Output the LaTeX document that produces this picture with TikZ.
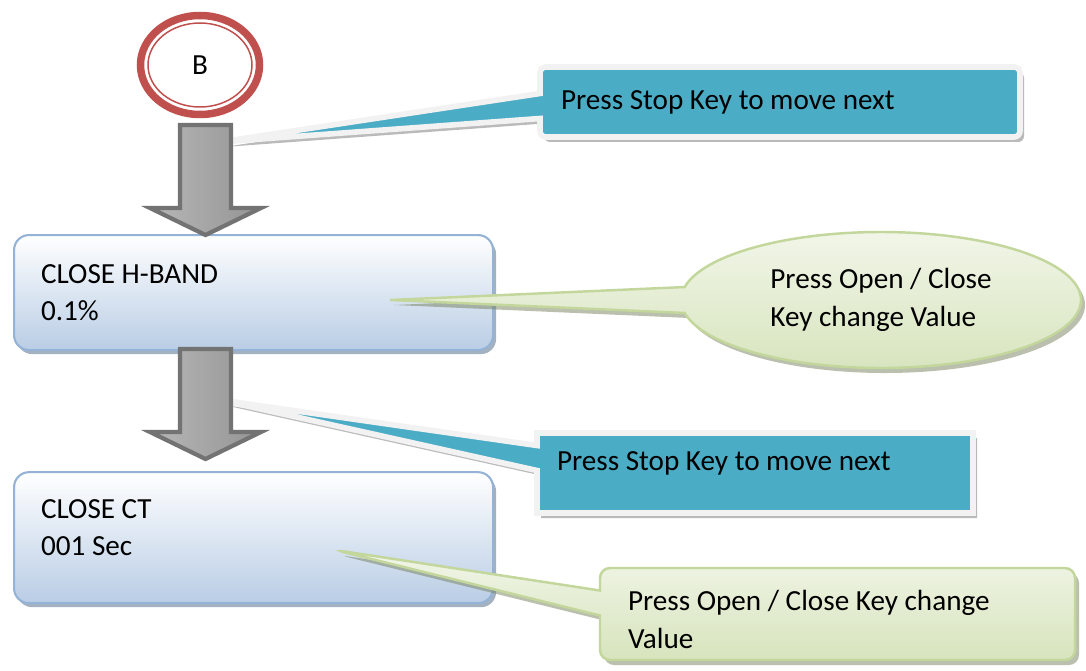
\documentclass[tikz,border=0pt]{standalone}
\usepackage{fontspec}
\setmainfont{Carlito}
\usepackage{tikz}
\usetikzlibrary{calc}
\usetikzlibrary{arrows,shapes,positioning,shadows,shapes.callouts}

\definecolor{boxblue}{HTML}{B9CDE5}
\definecolor{boxline}{HTML}{95B3D7}
\definecolor{callblue}{HTML}{4BACC6}
\definecolor{callgreen}{HTML}{D7E4BD}
\definecolor{greenline}{HTML}{C3D69B}
\definecolor{ringred}{HTML}{C0504D}

\begin{document}
\begin{tikzpicture}[
			font=\fontsize{8.3}{10.7}\selectfont,
			stepbox/.style  = {draw=boxline, line width=0.6pt, rectangle, rounded corners=0.15cm, top color=white, bottom color=boxblue, align=flush left, text width=4.25cm, inner xsep=0.27cm, inner ysep=0pt, minimum height=1.15cm, drop shadow={shadow xshift=0.03cm, shadow yshift=-0.04cm, fill=boxline!70!black, opacity=0.6}},
			bluecall/.style = {rectangle callout, fill=callblue, draw=black!5, line width=1.6pt, align=flush left, inner ysep=0pt, drop shadow={shadow xshift=0.04cm, shadow yshift=-0.05cm, fill=black!45, opacity=0.6}},
			greencall/.style = {draw=greenline, line width=0.7pt, top color=callgreen!35!white, bottom color=callgreen, drop shadow={shadow xshift=0.04cm, shadow yshift=-0.05cm, fill=greenline!60!black, opacity=0.5}},
			blockarr/.style = {draw=black!55, line width=1.2pt, left color=black!28, middle color=black!17, right color=black!42, line join=miter},
			ring/.style = {ellipse, draw=ringred, line width=0.075cm, minimum width=1.19cm, minimum height=0.99cm, inner sep=0pt}]
			
			\useasboundingbox (0,0) rectangle (10.86,-6.70);
			
			% the two setting boxes
			\node[stepbox, anchor=north west] (hband) at (0.13,-2.34) {CLOSE H-BAND\\0.1\%};
			\node[stepbox, below=1.20cm of hband, minimum height=1.31cm, text depth=0.58cm] (closect) {CLOSE CT\\001 Sec};
			
			% where the pointers end
			\coordinate (tip1) at (2.20,-1.42);
			\coordinate (tip2) at (2.20,-4.00);
			\coordinate (tip3) at (3.90,-3.00);
			\coordinate (tip4) at (3.35,-5.50);
			
			% callouts with the key hints
			\node[bluecall, rounded corners=0.06cm, callout absolute pointer={(tip1)}, text width=4.38cm, inner xsep=0.21cm, minimum height=0.70cm] (stop1) at (7.80,-1.02) {Press Stop Key to move next};
			\node[bluecall, callout absolute pointer={(tip2)}, text width=3.96cm, inner xsep=0.20cm, text height=0.37cm, text depth=0.43cm] (stop2) at (7.55,-4.73) {Press Stop Key to move next};
			\node[greencall, ellipse callout, callout absolute pointer={(tip3)}, callout pointer arc=22, minimum width=4.00cm, minimum height=1.36cm, inner sep=0pt, align=flush left] (openclose1) at (8.81,-3.00) {Press Open / Close\\Key change Value};
			\node[greencall, rectangle callout, rounded corners=0.10cm, callout absolute pointer={(tip4)}, align=flush left, text width=4.19cm, inner xsep=0.28cm, inner ysep=0pt, text height=0.31cm, minimum height=0.92cm] (openclose2) at (8.375,-6.14) {Press Open / Close Key change\\Value};
			
			% block arrows between the steps
			\foreach \ytop in {1.25,3.49}
			\draw[blockarr] (1.80,-\ytop) -- ++(0.51,0) -- ++(0,-0.83) -- ++(0.30,0) -- ++(-0.555,-0.27) -- ++(-0.555,0.27) -- ++(0.30,0) -- cycle;
			
			% start mark
			\node[ring] (bnode) at (2.00,-0.65) {B};
			\draw[ringred, line width=0.015cm] (bnode.center) ellipse (0.52cm and 0.42cm);
		\end{tikzpicture}
\end{document}
